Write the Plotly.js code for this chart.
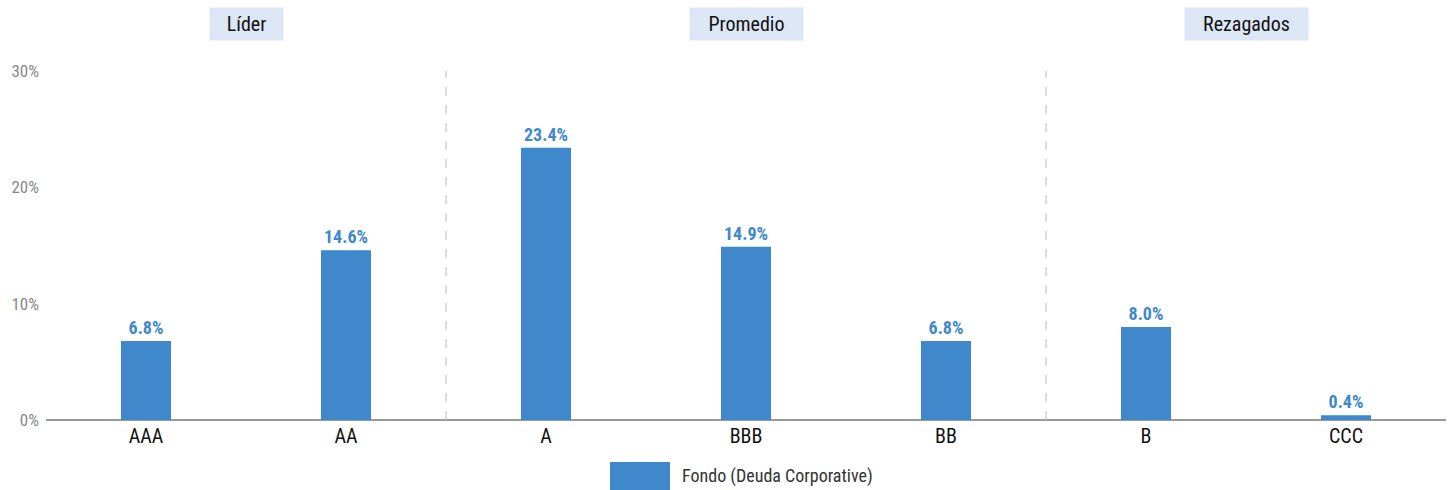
<!DOCTYPE html>
<html>
<head>
<meta charset="utf-8">
<script src="https://cdn.plot.ly/plotly-3.0.1.min.js"></script>
<style>html,body{margin:0;padding:0;background:#fff;}#chart{width:1453px;height:490px;}</style>
</head>
<body>
<div id="chart"></div>
<script>
const categories = ["AAA", "AA", "A", "BBB", "BB", "B", "CCC"];
const values = [6.8, 14.6, 23.4, 14.9, 6.8, 8.0, 0.4];
const seriesName = "Fondo (Deuda Corporative)";
const groupNames = ["Líder", "Promedio", "Rezagados"];
const groupMembers = [["AAA", "AA"], ["A", "BBB", "BB"], ["B", "CCC"]];
const yTickVals = [0, 10, 20, 30];
const yTickText = ["0%", "10%", "20%", "30%"];

const FONT = "'Roboto Condensed', 'Liberation Sans Narrow', 'DejaVu Sans Condensed', 'Arial Narrow', sans-serif";
const BAR = "#3E88CB";

const trace = {
  type: "bar",
  x: categories,
  y: values,
  name: seriesName,
  marker: {color: BAR},
  width: 0.25,
  text: values.map(v => v.toFixed(1) + "%"),
  textposition: "outside",
  textfont: {family: FONT, size: 18, color: BAR, weight: "bold"},
  cliponaxis: false,
  hoverinfo: "x+y",
  showlegend: false
};

const boxWidths = [73, 113, 123];
const annotations = [];
const shapes = [];
groupNames.forEach((g, i) => {
  const idx = groupMembers[i].map(c => categories.indexOf(c));
  const center = (Math.min(...idx) + Math.max(...idx)) / 2;
  annotations.push({
    x: center, xref: "x", y: 1.1347, yref: "paper",
    xanchor: "center", yanchor: "middle",
    text: g, showarrow: false,
    bgcolor: "#DCE6F4", borderpad: 0,
    width: boxWidths[i], height: 32,
    font: {family: FONT, size: 20, color: "#111"}
  });
  if (i > 0) {
    shapes.push({
      type: "line", xref: "x", yref: "paper",
      x0: Math.min(...idx) - 0.5, x1: Math.min(...idx) - 0.5, y0: 0, y1: 1,
      line: {color: "#BBBBBB", width: 1, dash: "dash"}
    });
  }
});

// legend swatch + label
shapes.push({
  type: "rect", xref: "paper", yref: "paper",
  x0: (610 - 46) / 1400, x1: (670 - 46) / 1400,
  y0: -(490 - 420) / 349, y1: -(462 - 420) / 349,
  fillcolor: BAR, line: {width: 0}
});
annotations.push({
  x: (680 - 46) / 1400, xref: "paper", y: -(476 - 420) / 349, yref: "paper",
  xanchor: "left", yanchor: "middle", showarrow: false,
  text: seriesName,
  font: {family: FONT, size: 18, color: "#333"}
});

const layout = {
  width: 1453, height: 490,
  margin: {l: 46, r: 7, t: 71, b: 70},
  paper_bgcolor: "#fff", plot_bgcolor: "#fff",
  showlegend: false,
  font: {family: FONT},
  bargap: 0.75,
  xaxis: {
    type: "category",
    range: [-0.5, 6.5],
    showgrid: false, zeroline: false,
    showline: false,
    ticks: "",
    tickfont: {family: FONT, size: 20, color: "#111"},
    ticklabelstandoff: 2,
    fixedrange: true
  },
  yaxis: {
    range: [0, 30],
    tickvals: yTickVals, ticktext: yTickText,
    showgrid: false, zeroline: true, zerolinecolor: "#999", zerolinewidth: 1.5,
    showline: false, ticks: "",
    tickfont: {family: FONT, size: 17, color: "#888"},
    ticklabelstandoff: 6,
    fixedrange: true
  },
  shapes: shapes,
  annotations: annotations
};

Plotly.newPlot("chart", [trace], layout, {displayModeBar: false, staticPlot: true});
</script>
</body>
</html>
